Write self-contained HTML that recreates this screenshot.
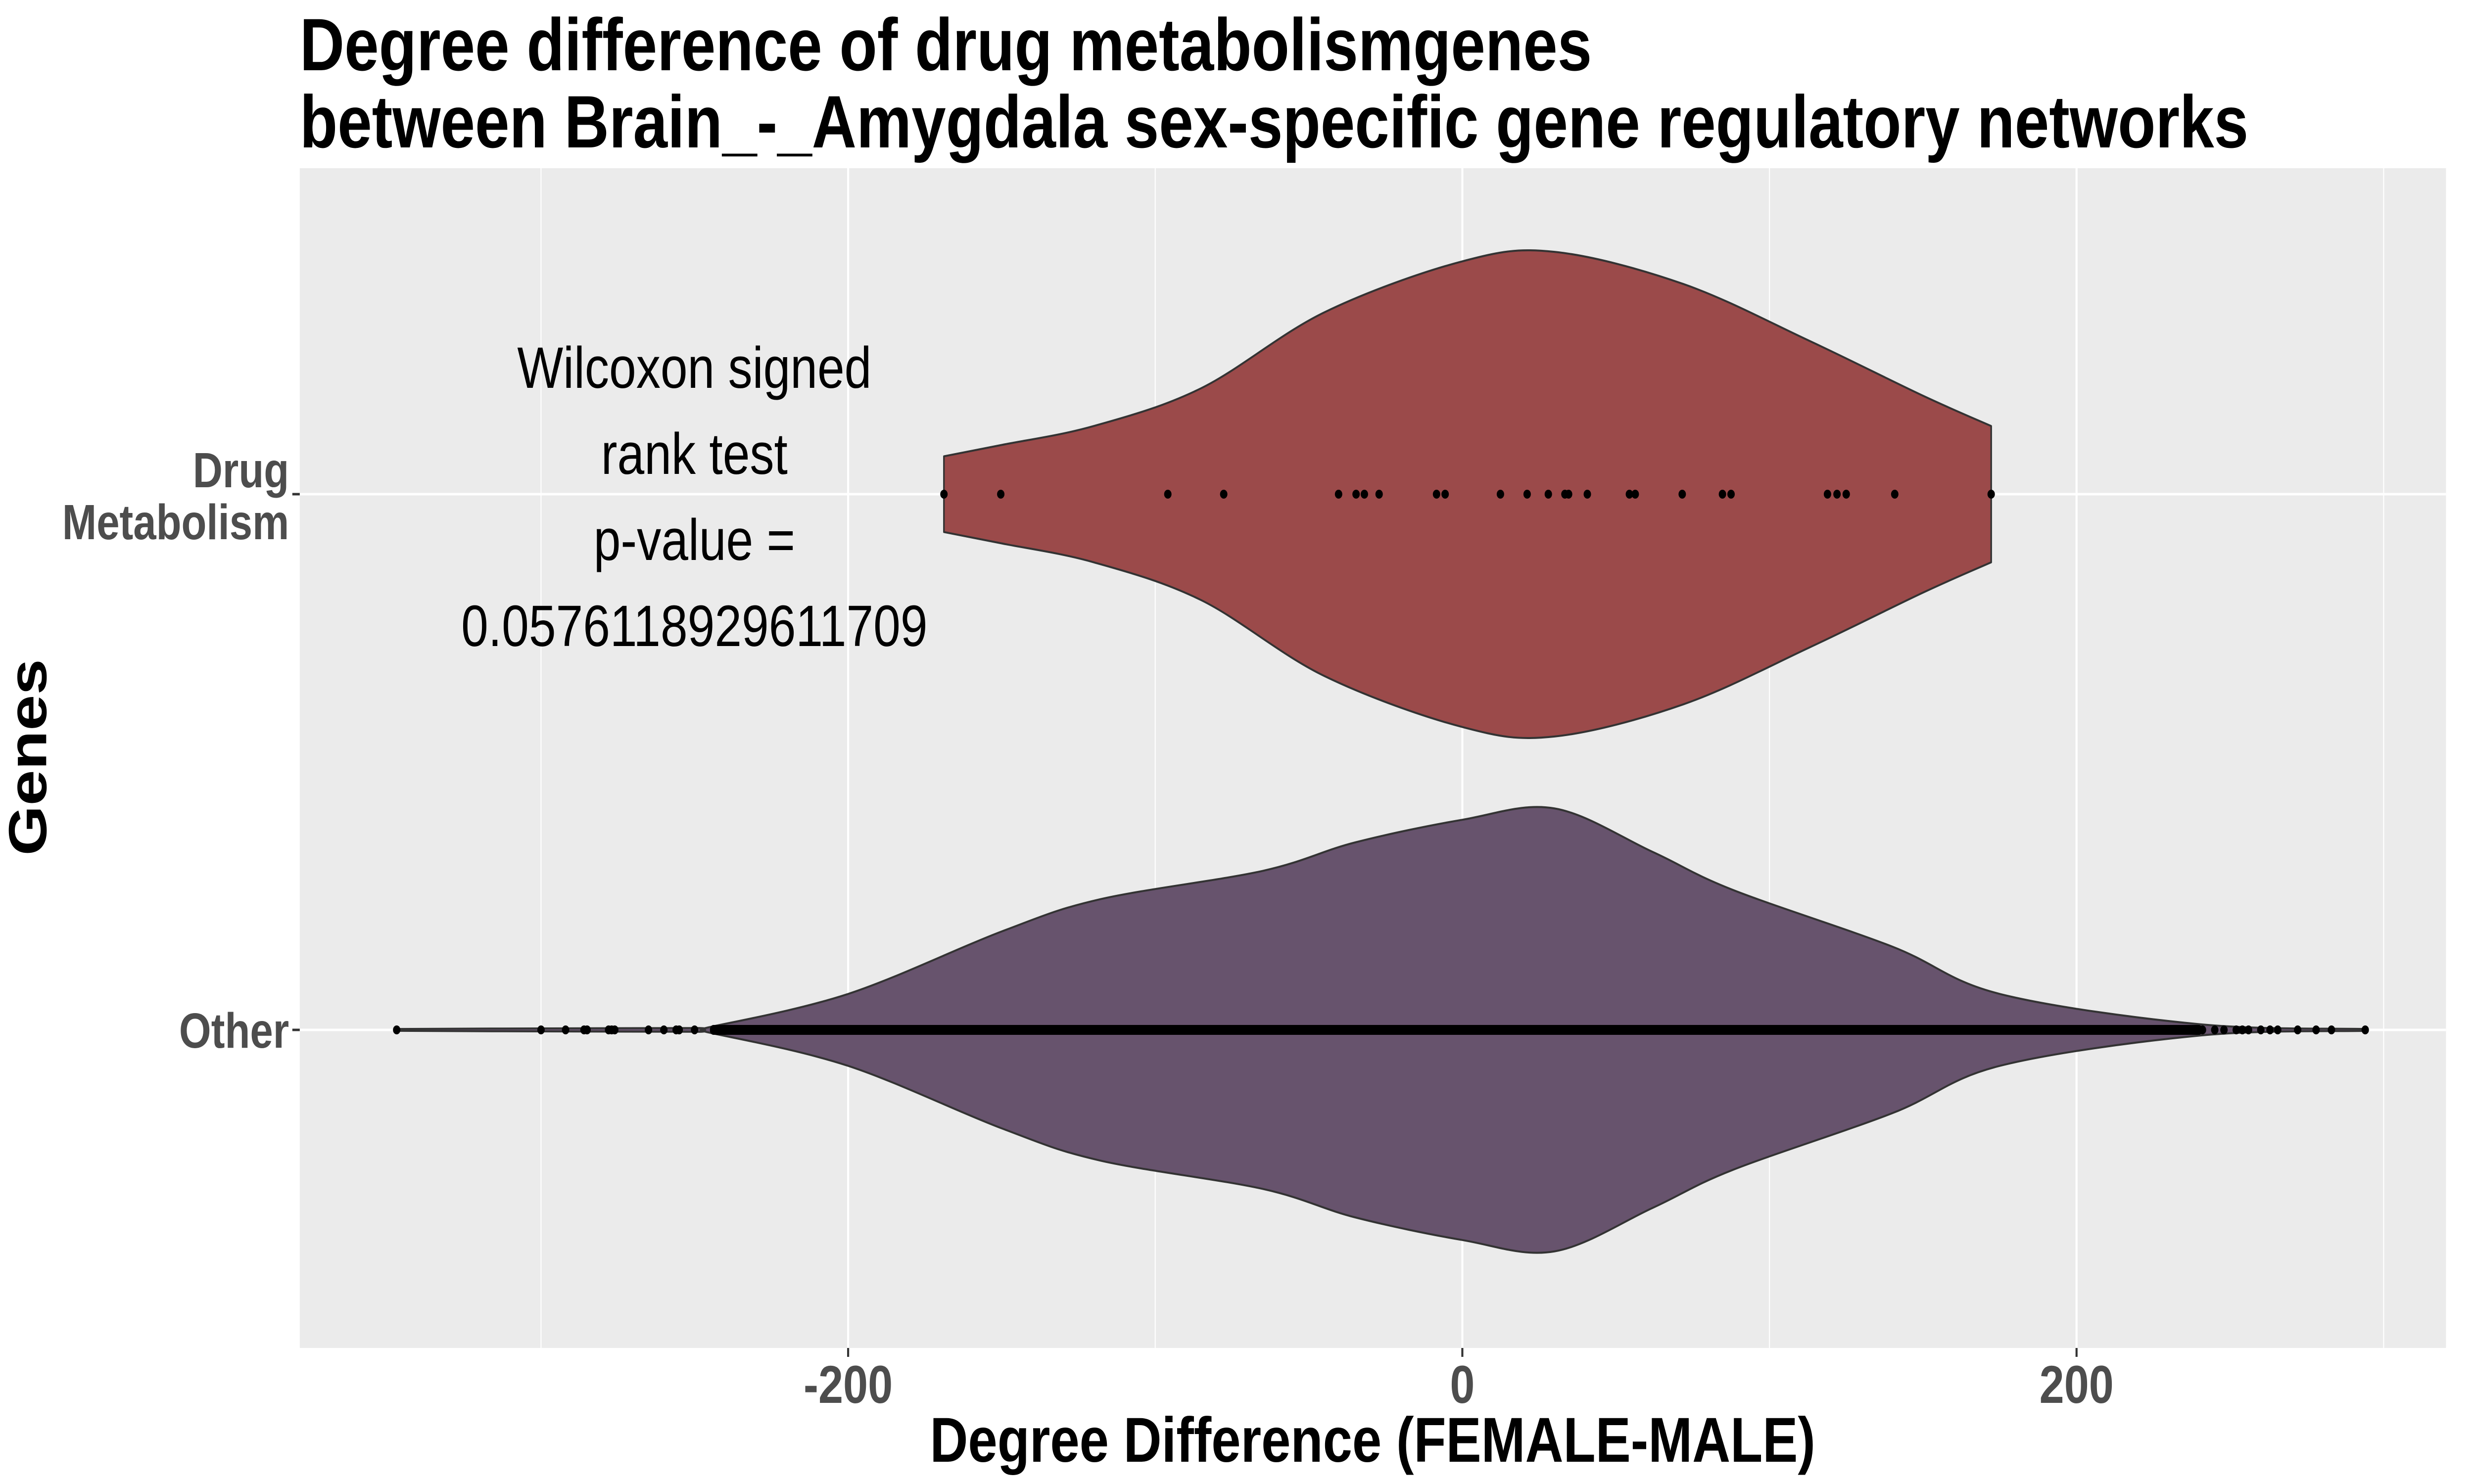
<!DOCTYPE html>
<html><head><meta charset="utf-8">
<style>
html,body{margin:0;padding:0;background:#fff;width:100%;height:100%;overflow:hidden;}
svg{display:block;font-family:"Liberation Sans",Arial,sans-serif;width:100vw;height:100vh;}
</style></head>
<body>
<svg id="chart" viewBox="0 0 6000 3000" preserveAspectRatio="none" xmlns="http://www.w3.org/2000/svg">
<text x="727" y="142" font-size="150" font-weight="bold" fill="#000">Degree difference of drug metabolismgenes</text>
<text x="727" y="298" font-size="150" font-weight="bold" fill="#000">between Brain_-_Amygdala sex-specific gene regulatory networks</text>
<rect x="727" y="340" width="5205" height="2385" fill="#ebebeb"/>
<g id="grid"></g>
<g id="violins"></g>
<g id="points"></g>
<g id="axes"></g>
<g font-size="118" text-anchor="middle" fill="#000">
<text x="1684" y="784">Wilcoxon signed</text>
<text x="1684" y="958">rank test</text>
<text x="1684" y="1132">p-value =</text>
<text x="1684" y="1306">0.0576118929611709</text>
</g>
<text x="3329" y="2955" font-size="128" font-weight="bold" text-anchor="middle" fill="#000">Degree Difference (FEMALE-MALE)</text>
<text transform="translate(112,1531) rotate(-90)" font-size="130" font-weight="bold" text-anchor="middle" fill="#000">Genes</text>
</svg>
<script>
const categories = ["Drug Metabolism", "Other"];
const xTicks = [-200, 0, 200];
const xMinor = [-300, -100, 100, 300];
const drugPoints = [-168.8,-150.3,-95.9,-77.7,-40.3,-34.6,-31.9,-27.1,-8.4,-5.6,12.4,21.1,28.0,33.4,34.6,40.7,54.4,56.3,71.6,84.7,87.5,118.9,122.0,125.0,140.8,172.2];
const otherOutliers = [-347,-300,-292,-286,-285,-278,-277,-276,-265,-260,-256,-255,-250,241,245,248,252,254,256,260,263,265.5,272,278,283,294];
const otherDenseRange = [-245, 241];
const drugDensX = [-168.8,-150,-120,-85,-45,0,30,72,113,150,172.2];
const drugDensW = [20,26,36,56,96,123,128,111,81,52,36];
const otherDensX = [-347,-300,-250,-245,-200,-150,-118,-65,-35,0,30,62,88,140,175,240,294];
const otherDensW = [0.5,0.8,1,1.5,19,52,69,84,99,111,117,94,74,44,19,3,0.5];

const NS="http://www.w3.org/2000/svg";
const X0=3546.5, XS=7.448;
const PL=727, PR=5932, PT=340, PB=2725;
const catY=[999,2082];
const WS=3.827;
function xs(v){return X0+v*XS;}
function mk(tag,attrs,parent){const e=document.createElementNS(NS,tag);for(const k in attrs)e.setAttribute(k,attrs[k]);parent.appendChild(e);return e;}

const grid=document.getElementById('grid');
xMinor.forEach(v=>{const l=mk('line',{x1:xs(v),x2:xs(v),y1:PT,y2:PB,stroke:'#fff','stroke-width':2.5},grid);

});
xTicks.forEach(v=>{const l=mk('line',{x1:xs(v),x2:xs(v),y1:PT,y2:PB,stroke:'#fff','stroke-width':5},grid);

});
catY.forEach(y=>{const l=mk('line',{x1:PL,x2:PR,y1:y,y2:y,stroke:'#fff','stroke-width':5},grid);

});

function smooth(pts){
  let d='M'+pts[0][0]+','+pts[0][1];
  for(let i=0;i<pts.length-1;i++){
    const p0=pts[Math.max(i-1,0)],p1=pts[i],p2=pts[i+1],p3=pts[Math.min(i+2,pts.length-1)];
    const c1=[p1[0]+(p2[0]-p0[0])/6,p1[1]+(p2[1]-p0[1])/6];
    const c2=[p2[0]-(p3[0]-p1[0])/6,p2[1]-(p3[1]-p1[1])/6];
    d+=' C'+c1[0]+','+c1[1]+' '+c2[0]+','+c2[1]+' '+p2[0]+','+p2[1];
  }
  return d;
}
const vg=document.getElementById('violins');
function violin(dx,dw,cy,fill,name){
  const top=[],bot=[];
  for(let i=0;i<dx.length;i++){top.push([xs(dx[i]),cy-dw[i]*WS]);}
  for(let i=dx.length-1;i>=0;i--){bot.push([xs(dx[i]),cy+dw[i]*WS]);}
  const d=smooth(top)+' L'+bot[0][0]+','+bot[0][1]+smooth(bot).replace(/^M[^ ]+/,'')+' Z';
  const p=mk('path',{d:d,fill:fill,stroke:'#333','stroke-width':4,'stroke-linejoin':'round'},vg);
  
  
}
violin(drugDensX,drugDensW,catY[0],'#9b4a4a','violin-drug-metabolism');
violin(otherDensX,otherDensW,catY[1],'#67536d','violin-other');

const pg=document.getElementById('points');
drugPoints.forEach(v=>{const c=mk('circle',{cx:xs(v),cy:catY[0],r:9,fill:'#000'},pg);

});
const dense=mk('rect',{x:xs(otherDenseRange[0]),y:catY[1]-10,width:xs(otherDenseRange[1])-xs(otherDenseRange[0]),height:20,fill:'#000',rx:9},pg);


otherOutliers.forEach(v=>{const c=mk('circle',{cx:xs(v),cy:catY[1],r:9,fill:'#000'},pg);

});

const ax=document.getElementById('axes');
xTicks.forEach(v=>{
  const t=mk('line',{x1:xs(v),x2:xs(v),y1:PB,y2:PB+18,stroke:'#333','stroke-width':5},ax);
  
  
  const l=mk('text',{x:xs(v),y:2836,'font-size':108,'font-weight':'bold','text-anchor':'middle',fill:'#4d4d4d'},ax);
  l.textContent=String(v);
  
  
});
catY.forEach((y,i)=>{
  const t=mk('line',{x1:PL-18,x2:PL,y1:y,y2:y,stroke:'#333','stroke-width':5},ax);
  
  
});
const yl1=mk('text',{x:701,y:985,'font-size':100,'font-weight':'bold','text-anchor':'end',fill:'#4d4d4d'},ax);
yl1.textContent='Drug';


const yl2=mk('text',{x:701,y:1090,'font-size':100,'font-weight':'bold','text-anchor':'end',fill:'#4d4d4d'},ax);
yl2.textContent='Metabolism';


const yl3=mk('text',{x:701,y:2118,'font-size':100,'font-weight':'bold','text-anchor':'end',fill:'#4d4d4d'},ax);
yl3.textContent='Other';


</script>
</body></html>
